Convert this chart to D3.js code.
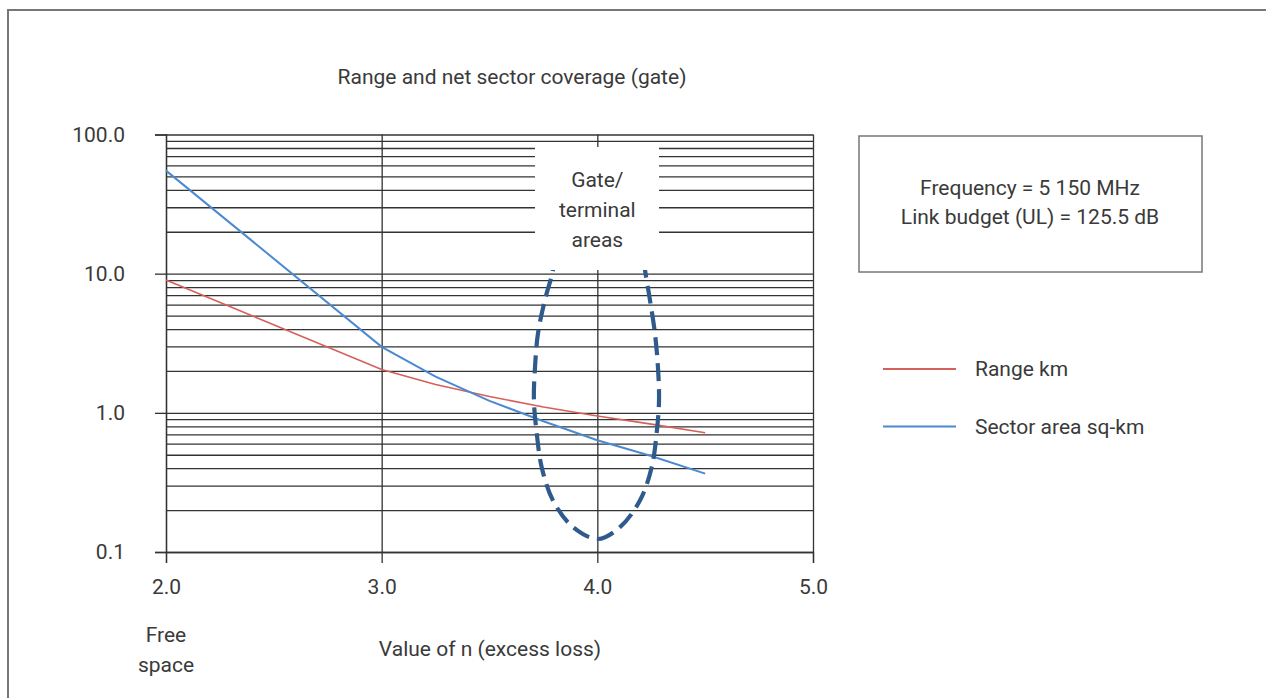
<!DOCTYPE html>
<html>
<head>
<meta charset="utf-8">
<script src="https://cdn.jsdelivr.net/npm/d3@7"></script>
<style>
  body { margin: 0; background: #fff; }
  text { font-family: Roboto, "Liberation Sans", sans-serif; fill: #3a3a3a; }
</style>
</head>
<body>
<svg id="chart" width="1266" height="698"></svg>
<script>
// values of n (excess loss) where the curves were read
var nValues    = [2.0, 3.0, 3.25, 3.5, 3.75, 4.0, 4.25, 4.5];
var rangeKm    = [9.0, 2.05, 1.60, 1.31, 1.10, 0.95, 0.83, 0.72];
var sectorArea = [55.0, 2.98, 1.82, 1.22, 0.87, 0.635, 0.49, 0.366];

// dashed "gate/terminal areas" loop, in chart units (n, value)
var gateN = [3.80, 3.794, 3.757, 3.725, 3.711, 3.706, 3.719, 3.742, 3.794, 3.887, 4.003,
             4.105, 4.198, 4.252, 4.275, 4.286, 4.281, 4.267, 4.244, 4.221, 4.21];
var gateV = [14, 10.6, 6.47, 3.74, 2.13, 1.23, 0.714, 0.407, 0.235, 0.151, 0.124,
             0.151, 0.235, 0.407, 0.714, 1.23, 2.13, 3.74, 6.47, 10.6, 14];

var xTicks = [2.0, 3.0, 4.0, 5.0];
var yTicks = [0.1, 1, 10, 100];
var seriesNames = ["Range km", "Sector area sq-km"];
var colors = ["#d6605a", "#4b8ad0"];

var svg = d3.select("#chart");

// outer frame (right and bottom edges run off the picture)
svg.append("rect")
    .attr("x", 8).attr("y", 10)
    .attr("width", 1300).attr("height", 720)
    .attr("fill", "none")
    .attr("stroke", "#777").attr("stroke-width", 2);

var plotLeft = 166, plotRight = 813, plotTop = 134.5, plotBottom = 552;

var x = d3.scaleLinear().domain([2, 5]).range([plotLeft, plotRight]);
var y = d3.scaleLog().domain([0.1, 100]).range([plotBottom, plotTop]);

var g = svg.append("g");

// horizontal grid (every log step)
g.append("g")
    .attr("transform", "translate(" + plotLeft + ",0)")
    .call(d3.axisLeft(y).tickValues(y.ticks()).tickSize(-(plotRight - plotLeft)).tickFormat(""))
    .call(function(a) {
      a.select(".domain").remove();
      a.selectAll("line").attr("stroke", "#333").attr("stroke-width", 1.3);
    });

// vertical grid
g.append("g")
    .attr("transform", "translate(0," + plotBottom + ")")
    .call(d3.axisBottom(x).tickValues(xTicks).tickSize(-(plotBottom - plotTop)).tickFormat(""))
    .call(function(a) {
      a.select(".domain").remove();
      a.selectAll("line").attr("stroke", "#333").attr("stroke-width", 1.3);
    });

// y axis labels
g.append("g")
    .attr("transform", "translate(" + plotLeft + ",0)")
    .call(d3.axisLeft(y).tickValues(yTicks).tickSize(11).tickPadding(30).tickFormat(d3.format(".1f")))
    .call(function(a) {
      a.select(".domain").attr("stroke", "#333").attr("stroke-width", 1.3);
      a.selectAll("line").attr("stroke", "#333").attr("stroke-width", 1.3);
      a.selectAll("text").attr("font-size", 21).attr("font-family", "Roboto").attr("fill", "#3a3a3a");
    });

// x axis labels
g.append("g")
    .attr("transform", "translate(0," + plotBottom + ")")
    .call(d3.axisBottom(x).tickValues(xTicks).tickSize(11).tickPadding(16).tickFormat(d3.format(".1f")))
    .call(function(a) {
      a.select(".domain").attr("stroke", "#333").attr("stroke-width", 1.3);
      a.selectAll("line").attr("stroke", "#333").attr("stroke-width", 1.3);
      a.selectAll("text").attr("font-size", 21).attr("font-family", "Roboto").attr("fill", "#3a3a3a");
    });

// curves
var line = d3.line()
    .x(function(d) { return x(d[0]); })
    .y(function(d) { return y(d[1]); });

var series = [rangeKm, sectorArea];
series.forEach(function(vals, i) {
  g.append("path")
      .datum(nValues.map(function(n, j) { return [n, vals[j]]; }))
      .attr("fill", "none")
      .attr("stroke", colors[i])
      .attr("stroke-width", i == 0 ? 1.6 : 2)
      .attr("d", line);
});

// dashed gate loop
g.append("path")
    .datum(gateN.map(function(n, j) { return [n, gateV[j]]; }))
    .attr("fill", "none")
    .attr("stroke", "#2f5b8c")
    .attr("stroke-width", 4.2)
    .attr("stroke-dasharray", "18 8")
    .attr("d", line.curve(d3.curveCatmullRom.alpha(0.5)));

// gate label box
g.append("rect")
    .attr("x", 535).attr("y", 147)
    .attr("width", 124).attr("height", 123)
    .attr("fill", "#fff");

var gateLines = ["Gate/", "terminal", "areas"];
g.append("g").selectAll("text")
    .data(gateLines)
    .enter().append("text")
      .attr("x", x(4.0))
      .attr("y", function(d, i) { return 187 + i * 30; })
      .attr("text-anchor", "middle")
      .attr("font-size", 21)
      .text(function(d) { return d; });

// title
svg.append("text")
    .attr("x", 512).attr("y", 84)
    .attr("text-anchor", "middle")
    .attr("font-size", 21)
    .text("Range and net sector coverage (gate)");

// x axis title
svg.append("text")
    .attr("x", 490).attr("y", 656)
    .attr("text-anchor", "middle")
    .attr("font-size", 21)
    .text("Value of n (excess loss)");

svg.append("g").selectAll("text")
    .data(["Free", "space"])
    .enter().append("text")
      .attr("x", x(2.0))
      .attr("y", function(d, i) { return 642 + i * 30; })
      .attr("text-anchor", "middle")
      .attr("font-size", 21)
      .text(function(d) { return d; });

// info box
svg.append("rect")
    .attr("x", 859).attr("y", 136)
    .attr("width", 343).attr("height", 136)
    .attr("fill", "#fff")
    .attr("stroke", "#777").attr("stroke-width", 1.5);

svg.append("g").selectAll("text")
    .data(["Frequency = 5 150 MHz", "Link budget (UL) = 125.5 dB"])
    .enter().append("text")
      .attr("x", 1030)
      .attr("y", function(d, i) { return 195 + i * 29; })
      .attr("text-anchor", "middle")
      .attr("font-size", 21)
      .text(function(d) { return d; });

// legend
var legend = svg.append("g").selectAll("g")
    .data(seriesNames)
    .enter().append("g")
      .attr("transform", function(d, i) { return "translate(0," + (369 + i * 57.5) + ")"; });

legend.append("line")
    .attr("x1", 883).attr("x2", 956)
    .attr("stroke", function(d, i) { return colors[i]; })
    .attr("stroke-width", 2);

legend.append("text")
    .attr("x", 975)
    .attr("y", 7)
    .attr("font-size", 21)
    .text(function(d) { return d; });
</script>
</body>
</html>
